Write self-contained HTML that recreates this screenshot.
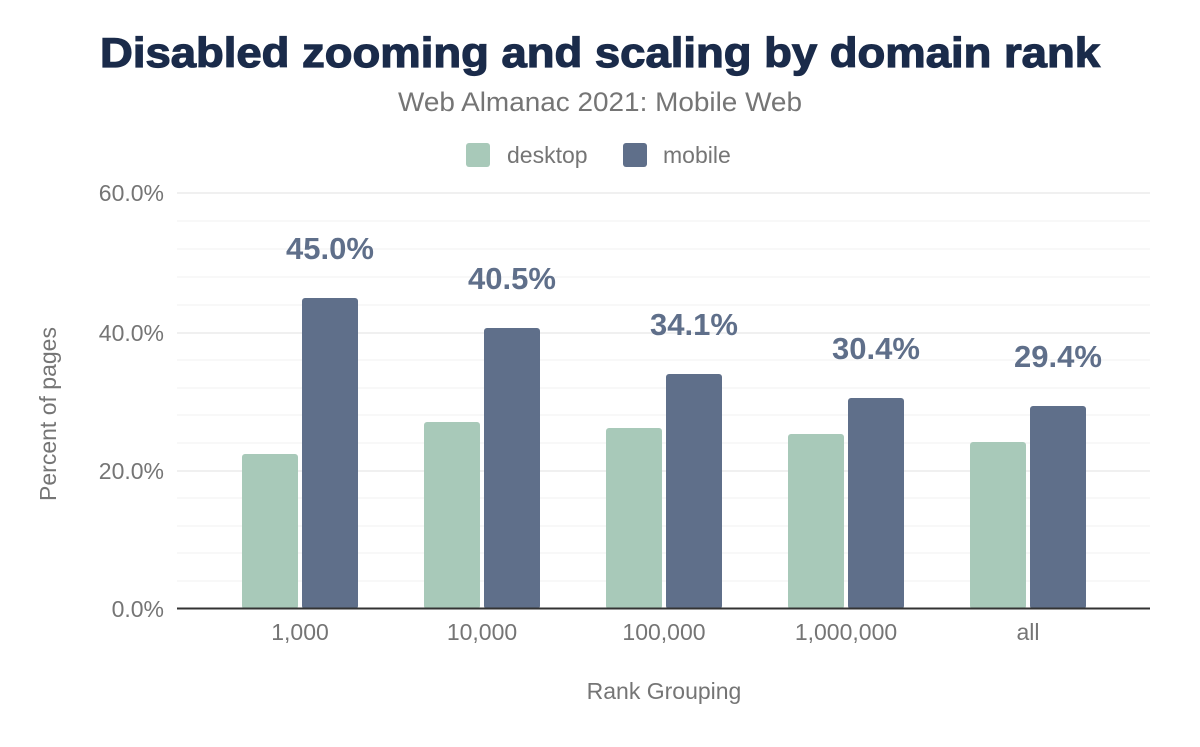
<!DOCTYPE html>
<html><head><meta charset="utf-8"><style>html,body{margin:0;padding:0;background:#fff}</style></head>
<body>
<svg width="1200" height="742" xmlns="http://www.w3.org/2000/svg" font-family="Liberation Sans, Arial, sans-serif">
<rect width="1200" height="742" fill="#fff"/>
<text x="600" y="67" text-anchor="middle" font-size="42" font-weight="bold" fill="#1a2b4a" textLength="1000" lengthAdjust="spacingAndGlyphs" stroke="#1a2b4a" stroke-width="1.2">Disabled zooming and scaling by domain rank</text>
<text x="600" y="111" text-anchor="middle" font-size="27" fill="#757575" textLength="404" lengthAdjust="spacingAndGlyphs">Web Almanac 2021: Mobile Web</text>
<rect x="466" y="143" width="24" height="24" rx="3" fill="#a8c9b9"/>
<text x="507" y="163" font-size="23" fill="#757575">desktop</text>
<rect x="623" y="143" width="24" height="24" rx="3" fill="#5f6f8a"/>
<text x="663" y="163" font-size="23" fill="#757575">mobile</text>
<g stroke="#f5f5f5" stroke-width="1.5">
<line x1="177" x2="1150" y1="193" y2="193" stroke="#ececec"/>
<line x1="177" x2="1150" y1="221" y2="221"/>
<line x1="177" x2="1150" y1="249" y2="249"/>
<line x1="177" x2="1150" y1="277" y2="277"/>
<line x1="177" x2="1150" y1="305" y2="305"/>
<line x1="177" x2="1150" y1="333" y2="333" stroke="#ececec"/>
<line x1="177" x2="1150" y1="360" y2="360"/>
<line x1="177" x2="1150" y1="388" y2="388"/>
<line x1="177" x2="1150" y1="415" y2="415"/>
<line x1="177" x2="1150" y1="443" y2="443"/>
<line x1="177" x2="1150" y1="471" y2="471" stroke="#ececec"/>
<line x1="177" x2="1150" y1="498" y2="498"/>
<line x1="177" x2="1150" y1="526" y2="526"/>
<line x1="177" x2="1150" y1="553" y2="553"/>
<line x1="177" x2="1150" y1="581" y2="581"/>
</g>
<g font-size="23" fill="#757575" text-anchor="end">
<text x="164" y="201">60.0%</text>
<text x="164" y="341">40.0%</text>
<text x="164" y="479">20.0%</text>
<text x="164" y="617">0.0%</text>
</g>
<g fill="#a8c9b9">
<rect x="242" y="454" width="56" height="155" rx="3"/>
<rect x="424" y="422" width="56" height="187" rx="3"/>
<rect x="606" y="428" width="56" height="181" rx="3"/>
<rect x="788" y="434" width="56" height="175" rx="3"/>
<rect x="970" y="442" width="56" height="167" rx="3"/>
</g>
<g fill="#5f6f8a">
<rect x="302" y="298" width="56" height="311" rx="3"/>
<rect x="484" y="328" width="56" height="281" rx="3"/>
<rect x="666" y="374" width="56" height="235" rx="3"/>
<rect x="848" y="398" width="56" height="211" rx="3"/>
<rect x="1030" y="406" width="56" height="203" rx="3"/>
</g>
<line x1="177" x2="1150" y1="608.5" y2="608.5" stroke="#333" stroke-width="2"/>
<g font-size="31" font-weight="bold" fill="#5f6f8a" text-anchor="middle">
<text x="330" y="259">45.0%</text>
<text x="512" y="289">40.5%</text>
<text x="694" y="335">34.1%</text>
<text x="876" y="359">30.4%</text>
<text x="1058" y="367">29.4%</text>
</g>
<g font-size="23" fill="#757575" text-anchor="middle">
<text x="300" y="640">1,000</text>
<text x="482" y="640">10,000</text>
<text x="664" y="640">100,000</text>
<text x="846" y="640">1,000,000</text>
<text x="1028" y="640">all</text>
<text x="664" y="699">Rank Grouping</text>
<text transform="translate(56,414) rotate(-90)">Percent of pages</text>
</g>
</svg>
</body></html>
